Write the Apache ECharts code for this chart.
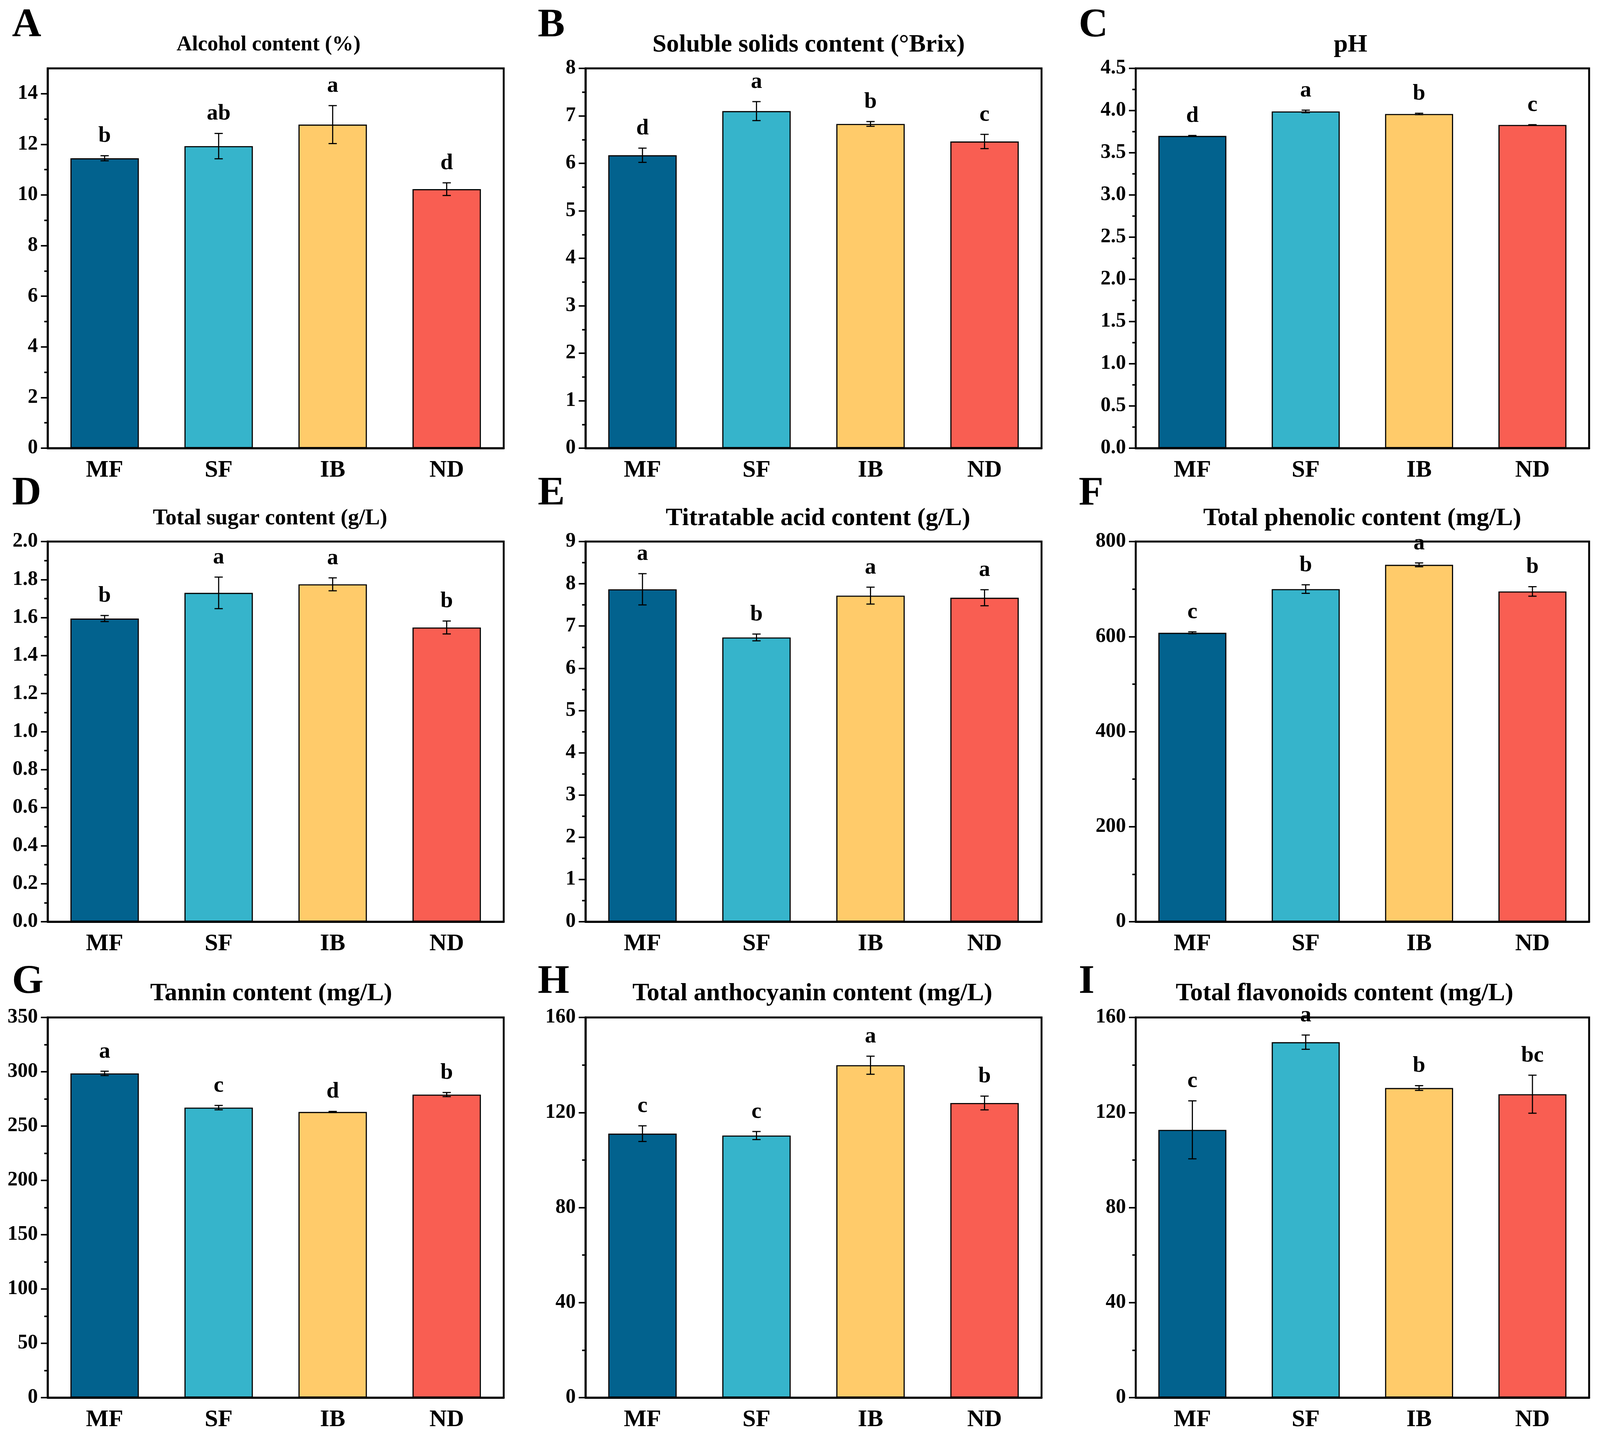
<!DOCTYPE html>
<html><head><meta charset="utf-8">
<script src="https://cdn.jsdelivr.net/npm/echarts@6/dist/echarts.min.js"></script>
<style>html,body{margin:0;padding:0;background:#fff;overflow:hidden}#c{width:100vw;height:100vh}</style>
</head><body><div id="c"></div>
<script>
const categories = ['MF', 'SF', 'IB', 'ND'];
const barColors = ['#02628E', '#36B4CB', '#FFCB6A', '#F95E52'];

// A
const alcoholMean = [11.45, 11.93, 12.78, 10.23];
const alcoholErr = [0.1, 0.5, 0.75, 0.25];
const alcoholSig = ['b', 'ab', 'a', 'd'];
const alcoholTicks = [0, 2, 4, 6, 8, 10, 12, 14];
// B
const solidsMean = [6.17, 7.10, 6.83, 6.46];
const solidsErr = [0.15, 0.2, 0.05, 0.15];
const solidsSig = ['d', 'a', 'b', 'c'];
const solidsTicks = [0, 1, 2, 3, 4, 5, 6, 7, 8];
// C
const phMean = [3.70, 3.99, 3.96, 3.83];
const phErr = [0.005, 0.015, 0.008, 0.003];
const phSig = ['d', 'a', 'b', 'c'];
const phTicks = [0, 0.5, 1.0, 1.5, 2.0, 2.5, 3.0, 3.5, 4.0, 4.5];
// D
const sugarMean = [1.595, 1.73, 1.775, 1.548];
const sugarErr = [0.016, 0.083, 0.034, 0.034];
const sugarSig = ['b', 'a', 'a', 'b'];
const sugarTicks = [0, 0.2, 0.4, 0.6, 0.8, 1.0, 1.2, 1.4, 1.6, 1.8, 2.0];
// E
const acidMean = [7.87, 6.73, 7.72, 7.67];
const acidErr = [0.37, 0.08, 0.2, 0.19];
const acidSig = ['a', 'b', 'a', 'a'];
const acidTicks = [0, 1, 2, 3, 4, 5, 6, 7, 8, 9];
// F
const phenolicMean = [608, 700, 751, 695];
const phenolicErr = [2, 9, 4, 10];
const phenolicSig = ['c', 'b', 'a', 'b'];
const phenolicTicks = [0, 200, 400, 600, 800];
// G
const tanninMean = [298.5, 267, 263, 279];
const tanninErr = [2, 2, 0.5, 1.9];
const tanninSig = ['a', 'c', 'd', 'b'];
const tanninTicks = [0, 50, 100, 150, 200, 250, 300, 350];
// H
const anthoMean = [111.1, 110.3, 139.9, 124.0];
const anthoErr = [3.3, 1.7, 3.8, 2.9];
const anthoSig = ['c', 'c', 'a', 'b'];
const anthoTicks = [0, 40, 80, 120, 160];
// I
const flavMean = [112.7, 149.6, 130.3, 127.7];
const flavErr = [12.2, 3.0, 1.0, 8.0];
const flavSig = ['c', 'a', 'b', 'bc'];
const flavTicks = [0, 40, 80, 120, 160];

const panels = [
  {letter: 'A', title: 'Alcohol content (%)', tSize: 57, tX: 716, mean: alcoholMean, err: alcoholErr, sig: alcoholSig, ticks: alcoholTicks, max: 15, dec: 0},
  {letter: 'B', title: 'Soluble solids content (°Brix)', tSize: 67, tX: 2156, mean: solidsMean, err: solidsErr, sig: solidsSig, ticks: solidsTicks, max: 8, dec: 0},
  {letter: 'C', title: 'pH', tSize: 67, tX: 3601, mean: phMean, err: phErr, sig: phSig, ticks: phTicks, max: 4.5, dec: 1},
  {letter: 'D', title: 'Total sugar content (g/L)', tSize: 59, tX: 720, mean: sugarMean, err: sugarErr, sig: sugarSig, ticks: sugarTicks, max: 2.0, dec: 1},
  {letter: 'E', title: 'Titratable acid content (g/L)', tSize: 67, tX: 2181, mean: acidMean, err: acidErr, sig: acidSig, ticks: acidTicks, max: 9, dec: 0},
  {letter: 'F', title: 'Total phenolic content (mg/L)', tSize: 67, tX: 3632, mean: phenolicMean, err: phenolicErr, sig: phenolicSig, ticks: phenolicTicks, max: 800, dec: 0},
  {letter: 'G', title: 'Tannin content (mg/L)', tSize: 67, tX: 723, mean: tanninMean, err: tanninErr, sig: tanninSig, ticks: tanninTicks, max: 350, dec: 0},
  {letter: 'H', title: 'Total anthocyanin content (mg/L)', tSize: 67, tX: 2166, mean: anthoMean, err: anthoErr, sig: anthoSig, ticks: anthoTicks, max: 160, dec: 0},
  {letter: 'I', title: 'Total flavonoids content (mg/L)', tSize: 67, tX: 3585, mean: flavMean, err: flavErr, sig: flavSig, ticks: flavTicks, max: 160, dec: 0}
];

// layout designed for a 4266 x 3688 canvas, scaled to the real viewport
const el = document.getElementById('c');
const W = el.clientWidth || 4266, H = el.clientHeight || 3688;
const sx = W / 4266, sy = H / 3688, sf = Math.min(sx, sy);

const colLeft = [127, 1561, 3028];
const colWidth = [1216, 1216, 1209];
const rowTop = [175, 1386, 2604];
const rowHeight = [972, 973, 973];
const letterX = [32, 1434, 2876];
const letterY = [66, 1264, 2514];
const titleY = [115, 1327, 2543];

const FONT = '"Liberation Serif", "Times New Roman", serif';
const grids = [], xAxes = [], yAxes = [], series = [], graphics = [];

panels.forEach((p, i) => {
  const r = Math.floor(i / 3), c = i % 3;
  grids.push({left: colLeft[c] * sx, top: rowTop[r] * sy, width: colWidth[c] * sx, height: rowHeight[r] * sy,
    show: true, borderColor: '#000', borderWidth: 5 * sf, backgroundColor: 'transparent'});
  xAxes.push({type: 'category', gridIndex: i, data: categories,
    axisLine: {lineStyle: {color: '#000', width: 5 * sf}},
    axisTick: {alignWithLabel: true, length: 18 * sf, lineStyle: {color: '#000', width: 4 * sf}},
    axisLabel: {color: '#000', fontFamily: FONT, fontWeight: 'bold', fontSize: 64 * sf, margin: 28 * sf}});
  const minor = [];
  for (let k = 1; k < p.ticks.length; k++) minor.push((p.ticks[k - 1] + p.ticks[k]) / 2);
  yAxes.push({type: 'value', gridIndex: i, position: 'left', min: 0, max: p.max,
    axisLine: {show: true, lineStyle: {color: '#000', width: 5 * sf}},
    axisTick: {show: true, length: 18 * sf, customValues: p.ticks, lineStyle: {color: '#000', width: 4 * sf}},
    axisLabel: {customValues: p.ticks, formatter: v => Number(v).toFixed(p.dec), color: '#000',
      fontFamily: FONT, fontWeight: 'bold', fontSize: 54 * sf, margin: 26 * sf},
    splitLine: {show: false}});
  yAxes.push({type: 'value', gridIndex: i, position: 'left', min: 0, max: p.max,
    axisLine: {show: false},
    axisTick: {show: true, length: 9 * sf, customValues: minor, lineStyle: {color: '#000', width: 4 * sf}},
    axisLabel: {show: false}, splitLine: {show: false}});
  series.push({type: 'bar', xAxisIndex: i, yAxisIndex: 2 * i, barWidth: '60%',
    data: p.mean.map((v, j) => ({value: v, itemStyle: {color: barColors[j]}})),
    itemStyle: {borderColor: '#000', borderWidth: 3 * sf}, silent: true});
  series.push({type: 'custom', xAxisIndex: i, yAxisIndex: 2 * i, silent: true, z: 5,
    data: p.mean.map((v, j) => [j, v, p.err[j]]),
    renderItem: (params, api) => {
      const x = api.value(0), m = api.value(1), e = api.value(2);
      const t = api.coord([x, m + e]);
      const b = api.coord([x, m - e]);
      const hw = 11 * sf;
      const st = {stroke: '#000', lineWidth: 3 * sf};
      return {type: 'group', children: [
        {type: 'line', shape: {x1: t[0], y1: t[1], x2: b[0], y2: b[1]}, style: st},
        {type: 'line', shape: {x1: t[0] - hw, y1: t[1], x2: t[0] + hw, y2: t[1]}, style: st},
        {type: 'line', shape: {x1: b[0] - hw, y1: b[1], x2: b[0] + hw, y2: b[1]}, style: st},
        {type: 'text', x: t[0], y: t[1] - 50 * sy, style: {text: p.sig[params.dataIndex], align: 'center',
          verticalAlign: 'middle', font: 'bold ' + (60 * sf) + 'px ' + FONT, fill: '#000'}}
      ]};
    }});
  graphics.push({type: 'text', x: letterX[c] * sx, y: letterY[r] * sy, style: {text: p.letter, align: 'left',
    verticalAlign: 'middle', font: 'bold ' + (108 * sf) + 'px ' + FONT, fill: '#000'}});
  graphics.push({type: 'text', x: p.tX * sx, y: titleY[r] * sy, style: {text: p.title, align: 'center',
    verticalAlign: 'middle', font: 'bold ' + (p.tSize * sf) + 'px ' + FONT, fill: '#000'}});
});

const chart = echarts.init(el, null, {renderer: 'canvas'});
chart.setOption({backgroundColor: '#fff', animation: false, grid: grids, xAxis: xAxes, yAxis: yAxes,
  series: series, graphic: graphics});
</script></body></html>
